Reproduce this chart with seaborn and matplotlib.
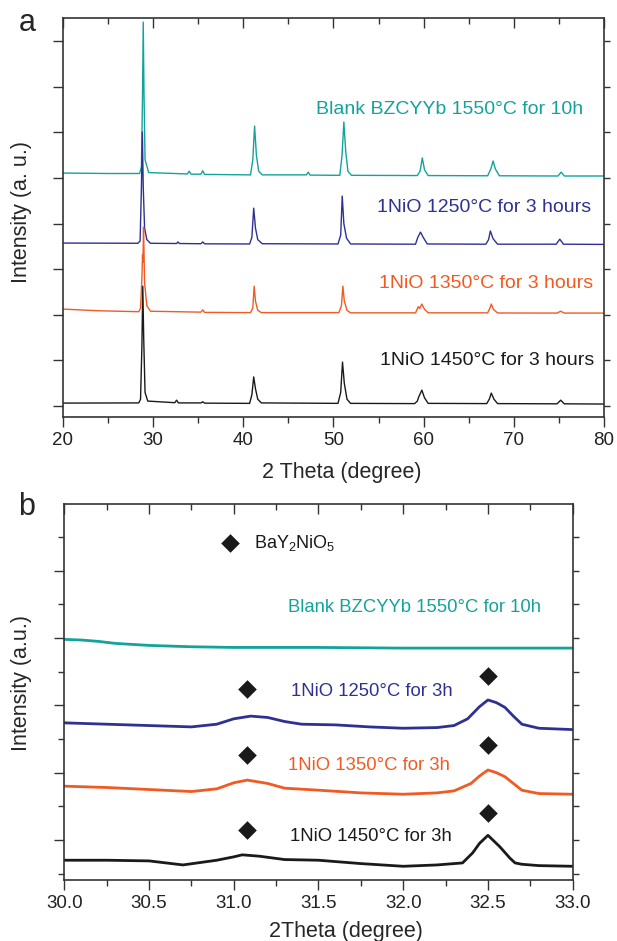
import numpy as np
import pandas as pd
import matplotlib
matplotlib.use('Agg')
import matplotlib.pyplot as plt
import seaborn as sns
from matplotlib.ticker import MultipleLocator, NullFormatter, FormatStrFormatter

sns.set_style('ticks')
plt.rcParams['font.family'] = ['Liberation Sans', 'DejaVu Sans']
plt.rcParams['mathtext.fontset'] = 'custom'
plt.rcParams['mathtext.rm'] = 'Liberation Sans'
plt.rcParams['mathtext.it'] = 'Liberation Sans:italic'

TEAL = '#13a39b'
BLUE = '#2e3192'
ORANGE = '#f15a22'
BLACK = '#1a1a1a'

# ---- panel a: wide scan (2 theta 20-80), vertices ----
blank_x = [20, 25, 28.5, 28.7, 28.82, 28.9, 28.98, 29.1, 29.25, 29.5, 33.8, 34.0, 34.2,
           35.3, 35.5, 35.7, 40.8, 41.05, 41.25, 41.45, 41.7, 42.1, 47.0, 47.2, 47.4,
           50.7, 50.95, 51.15, 51.35, 51.6, 52.0, 59.3, 59.6, 59.85, 60.1, 60.5,
           67.1, 67.45, 67.7, 67.95, 68.4, 74.9, 75.25, 75.6, 80]
blank_y = [5110, 5100, 5100, 5250, 6800, 8420, 6900, 5400, 5300, 5120, 5090, 5150, 5085,
           5085, 5160, 5080, 5070, 5400, 6140, 5500, 5150, 5070, 5070, 5130, 5065,
           5060, 5500, 6230, 5600, 5150, 5060, 5055, 5150, 5440, 5180, 5055,
           5050, 5200, 5375, 5200, 5050, 5045, 5130, 5045, 5045]

ni1250_x = [20, 28.3, 28.55, 28.7, 28.8, 28.9, 29.05, 29.3, 29.7, 32.6, 32.75, 32.9,
            35.3, 35.5, 35.7, 40.7, 40.95, 41.15, 41.35, 41.6, 42.1, 50.5, 50.8, 50.97,
            51.15, 51.45, 51.9, 59.1, 59.35, 59.65, 59.95, 60.4, 66.9, 67.2, 67.4, 67.7,
            68.2, 74.7, 75.1, 75.5, 80]
ni1250_y = [3575, 3570, 3620, 4800, 6010, 4800, 3900, 3650, 3570, 3565, 3600, 3565,
            3560, 3600, 3558, 3555, 3700, 4340, 3900, 3650, 3560, 3555, 3750, 4605,
            4000, 3680, 3555, 3550, 3700, 3815, 3700, 3555, 3550, 3650, 3840, 3670,
            3550, 3550, 3660, 3550, 3545]

ni1350_x = [20, 24, 28.4, 28.6, 28.75, 28.82, 28.87, 28.93, 29.05, 29.3, 29.7, 35.3,
            35.5, 35.7, 40.8, 41.05, 41.2, 41.35, 41.6, 42.0, 50.6, 50.88, 51.04, 51.2,
            51.5, 51.9, 59.1, 59.4, 59.55, 59.8, 60.1, 60.5, 67.1, 67.35, 67.5, 67.75,
            68.2, 74.8, 75.2, 75.6, 80]
ni1350_y = [2127, 2090, 2070, 2150, 2800, 3311, 3150, 3925, 2700, 2200, 2080, 2060,
            2110, 2055, 2050, 2150, 2630, 2300, 2100, 2050, 2050, 2200, 2630, 2300,
            2100, 2045, 2045, 2180, 2140, 2237, 2120, 2045, 2045, 2150, 2237, 2120,
            2042, 2040, 2080, 2040, 2040]

ni1450_x = [20, 28.4, 28.6, 28.75, 28.85, 28.95, 29.1, 29.4, 32.4, 32.6, 32.8, 35.3,
            35.5, 35.7, 40.7, 40.95, 41.15, 41.35, 41.6, 42.0, 50.5, 50.8, 51.0, 51.2,
            51.5, 51.9, 59.0, 59.3, 59.45, 59.8, 60.1, 60.5, 67.0, 67.3, 67.5, 67.8,
            68.2, 74.8, 75.2, 75.6, 80]
ni1450_y = [66, 70, 150, 1300, 2630, 1500, 300, 110, 75, 130, 70, 70,
            95, 65, 60, 250, 640, 380, 150, 70, 60, 300, 965, 500,
            150, 60, 55, 110, 200, 350, 180, 60, 55, 160, 285, 150,
            55, 50, 130, 50, 45]

labels_a = ['Blank BZCYYb 1550°C for 10h', '1NiO 1250°C for 3 hours',
            '1NiO 1350°C for 3 hours', '1NiO 1450°C for 3 hours']
label_a_x = [48.1, 54.8, 55.0, 55.2]
label_a_y = [6513, 4355, 2690, 995]

# ---- panel b: narrow scan (2 theta 30-33) ----
b_blank_x = [30.0, 30.1, 30.2, 30.3, 30.5, 30.75, 31.0, 31.5, 32.0, 32.5, 33.0]
b_blank_y = [2.98, 2.97, 2.95, 2.92, 2.89, 2.87, 2.86, 2.86, 2.85, 2.85, 2.85]

b_1250_x = [30.0, 30.25, 30.5, 30.75, 30.9, 31.0, 31.1, 31.2, 31.3, 31.4, 31.6, 31.8,
            32.0, 32.2, 32.3, 32.38, 32.45, 32.5, 32.55, 32.6, 32.65, 32.7, 32.8, 33.0]
b_1250_y = [1.74, 1.72, 1.70, 1.68, 1.72, 1.80, 1.84, 1.82, 1.76, 1.72, 1.71, 1.68,
            1.66, 1.67, 1.70, 1.80, 1.98, 2.08, 2.04, 1.97, 1.84, 1.72, 1.66, 1.64]

b_1350_x = [30.0, 30.25, 30.5, 30.75, 30.9, 31.0, 31.08, 31.2, 31.3, 31.5, 31.75, 32.0,
            32.2, 32.3, 32.4, 32.45, 32.5, 32.55, 32.6, 32.65, 32.7, 32.8, 33.0]
b_1350_y = [0.80, 0.78, 0.75, 0.72, 0.76, 0.85, 0.89, 0.84, 0.77, 0.74, 0.70, 0.68,
            0.70, 0.73, 0.84, 0.95, 1.04, 1.00, 0.94, 0.84, 0.74, 0.69, 0.68]

b_1450_x = [30.0, 30.25, 30.5, 30.7, 30.9, 31.0, 31.05, 31.15, 31.3, 31.5, 31.75, 32.0,
            32.2, 32.35, 32.41, 32.45, 32.5, 32.57, 32.63, 32.66, 32.7, 32.8, 33.0]
b_1450_y = [-0.30, -0.30, -0.31, -0.37, -0.30, -0.25, -0.22, -0.24, -0.29, -0.30, -0.35, -0.39,
            -0.37, -0.34, -0.19, -0.05, 0.07, -0.10, -0.27, -0.34, -0.36, -0.38, -0.39]

# BaY2NiO5 markers
marker_x = [30.98, 31.08, 31.08, 31.08, 32.5, 32.5, 32.5]
marker_y = [4.41, 2.25, 1.26, 0.15, 2.43, 1.41, 0.40]

labels_b = ['Blank BZCYYb 1550°C for 10h', '1NiO 1250°C for 3h',
            '1NiO 1350°C for 3h', '1NiO 1450°C for 3h']
label_b_x = [31.32, 31.34, 31.32, 31.33]
label_b_y = [3.45, 2.20, 1.11, 0.05]

colors = [TEAL, BLUE, ORANGE, BLACK]

fig = plt.figure(figsize=(6.17, 9.41), dpi=100)
ax_a = fig.add_axes([0.1021, 0.5568, 0.8768, 0.4241])
ax_b = fig.add_axes([0.1042, 0.0648, 0.824, 0.3996])

series_a = [(blank_x, blank_y), (ni1250_x, ni1250_y), (ni1350_x, ni1350_y), (ni1450_x, ni1450_y)]
for (xs, ys), c in zip(series_a, colors):
    sns.lineplot(x=xs, y=ys, ax=ax_a, color=c, lw=1.0, estimator=None, sort=False)
for t, x, y, c in zip(labels_a, label_a_x, label_a_y, colors):
    ax_a.text(x, y, t, color=c, fontsize=14, va='center', ha='left')

series_b = [(b_blank_x, b_blank_y), (b_1250_x, b_1250_y), (b_1350_x, b_1350_y), (b_1450_x, b_1450_y)]
for (xs, ys), c in zip(series_b, colors):
    sns.lineplot(x=xs, y=ys, ax=ax_b, color=c, lw=2.0, estimator=None, sort=False)
sns.scatterplot(x=marker_x, y=marker_y, ax=ax_b, marker='D', s=90, color=BLACK,
                edgecolor=BLACK, linewidth=0)
ax_b.text(31.12, 4.41, 'BaY$_2$NiO$_5$', color=BLACK, fontsize=13, va='center', ha='left')
for t, x, y, c in zip(labels_b, label_b_x, label_b_y, colors):
    ax_b.text(x, y, t, color=c, fontsize=13.3, va='center', ha='left')

# axes styling
ax_a.set_xlim(20, 80)
ax_a.set_ylim(-240, 8510)
ax_a.xaxis.set_major_locator(MultipleLocator(10))
ax_a.xaxis.set_minor_locator(MultipleLocator(5))
ax_a.yaxis.set_major_locator(MultipleLocator(1000))
ax_a.set_xlabel('2 Theta (degree)', fontsize=15.5)
ax_a.set_ylabel('Intensity (a. u.)', fontsize=15.5)
ax_a.xaxis.set_label_coords(0.516, -0.113)
ax_a.yaxis.set_label_coords(-0.057, 0.514)

ax_b.set_xlim(30.0, 33.0)
ax_b.set_ylim(-0.594, 4.99)
ax_b.xaxis.set_major_locator(MultipleLocator(0.5))
ax_b.xaxis.set_minor_locator(MultipleLocator(0.25))
ax_b.yaxis.set_major_locator(MultipleLocator(1))
ax_b.yaxis.set_minor_locator(MultipleLocator(0.5))
ax_b.xaxis.set_major_formatter(FormatStrFormatter('%.1f'))
ax_b.set_xlabel('2Theta (degree)', fontsize=15.5)
ax_b.set_ylabel('Intensity (a.u.)', fontsize=15.5)
ax_b.xaxis.set_label_coords(0.553, -0.108)
ax_b.yaxis.set_label_coords(-0.0635, 0.524)

for ax in (ax_a, ax_b):
    ax.yaxis.set_major_formatter(NullFormatter())
    ax.yaxis.set_minor_formatter(NullFormatter())
    for s in ax.spines.values():
        s.set_visible(True)
        s.set_color('#333333')
        s.set_linewidth(1.2)
    ax.tick_params(axis='both', which='major', direction='out', length=7, width=1,
                   labelsize=13.5, colors='#333333', labelcolor='#222222')
    ax.tick_params(axis='both', which='minor', direction='out', length=4, width=1,
                   colors='#333333')
    ax.tick_params(axis='both', which='both', top=True, right=True)

# inward ticks on top and right
for ax in (ax_a, ax_b):
    for t in ax.xaxis.get_major_ticks() + ax.xaxis.get_minor_ticks():
        t.tick2line.set_marker(3)
    for t in ax.yaxis.get_major_ticks() + ax.yaxis.get_minor_ticks():
        t.tick2line.set_marker(1)
        t.tick2line.set_markersize(4)

fig.text(27 / 617, 1 - 23 / 941, 'a', fontsize=22, ha='center', va='center')
fig.text(27 / 617, 1 - 507 / 941, 'b', fontsize=22, ha='center', va='center')

fig.savefig('out.png', dpi=100)
plt.close(fig)
